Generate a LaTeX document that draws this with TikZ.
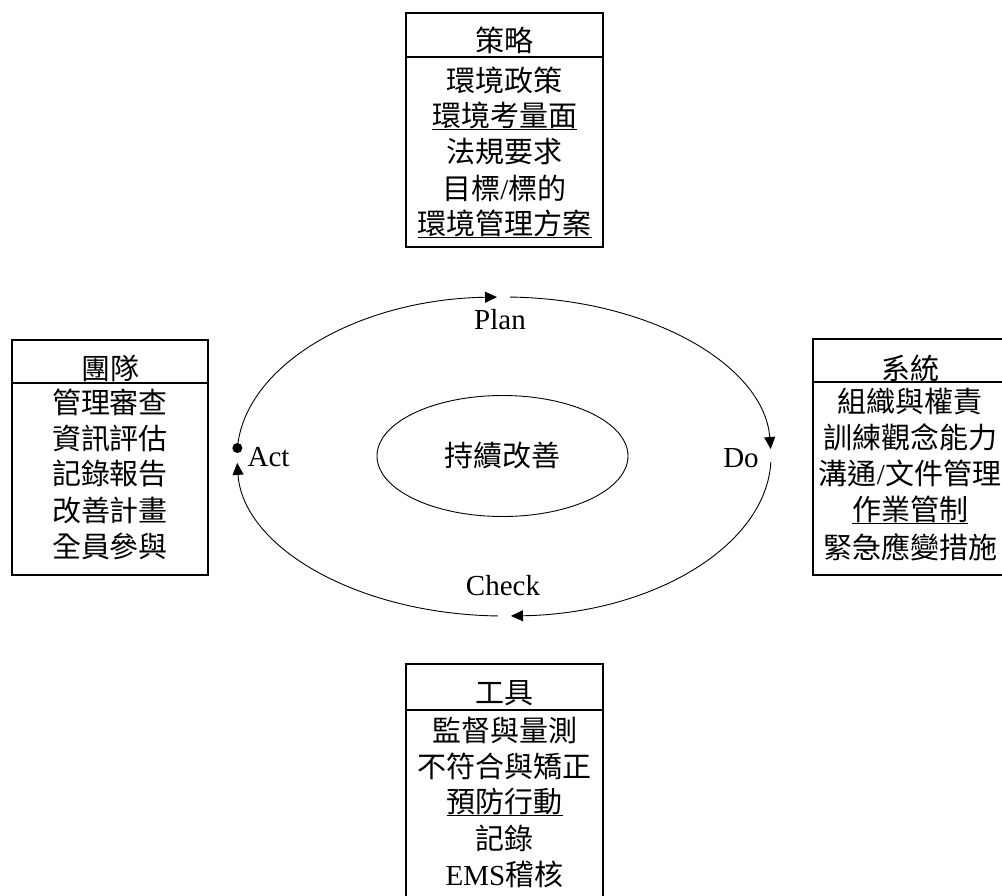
\documentclass[tikz,border=0pt]{standalone}
\usepackage{fontspec}
\setmainfont{Liberation Serif}
\newfontfamily\cjk{Noto Sans CJK TC}
\usetikzlibrary{arrows.meta,shapes.geometric}
\newcommand{\undl}[1]{\setbox0\hbox{#1}\rlap{\rule[-0.09em]{\wd0}{1pt}}\box0}
\tikzset{
   frame/.style={line width=1.8pt},
   cyc/.style={-{Triangle[length=12pt,width=11pt]},line width=0.9pt},
   core/.style={draw,ellipse,line width=0.9pt,minimum width=251pt,minimum height=121pt,inner sep=0pt},
   pdca/.style={font=\fontsize{29}{34}\selectfont,inner sep=0pt},
   item/.style={font=\fontsize{29}{34}\selectfont\cjk,inner sep=0pt},
}

\begin{document}
\begin{tikzpicture}[x=1pt,y=-1pt]
      \path[use as bounding box,clip] (0,0) rectangle (1002,895);
      % boxes
      \draw[frame] (406,13) rectangle (603,247);
      \draw[frame] (406,57) -- (603,57);
      \draw[frame] (12,340) rectangle (208,575);
      \draw[frame] (12,383) -- (208,383);
      \draw[frame] (813,339) rectangle (1007,575);
      \draw[frame] (813,382) -- (1007,382);
      \draw[frame] (406,664) rectangle (603,905);
      \draw[frame] (406,710) -- (603,710);
      % strategy
      \node[item] (strat) at (504.5,40) {策略};
      \node[item] (stratA) at (504.5,80) {環境政策};
      \node[item] (stratB) at (504.5,116) {\undl{環境考量面}};
      \node[item] (stratC) at (504.5,152) {法規要求};
      \node[item] (stratD) at (504.5,188) {目標{\rmfamily/}標的};
      \node[item] (stratE) at (504.5,224) {\undl{環境管理方案}};
      % team
      \node[item] (team) at (110,368) {團隊};
      \node[item] (teamA) at (110,402) {管理審查};
      \node[item] (teamB) at (110,438) {資訊評估};
      \node[item] (teamC) at (110,474) {記錄報告};
      \node[item] (teamD) at (110,510) {改善計畫};
      \node[item] (teamE) at (110,546) {全員參與};
      % system
      \node[item] (sys) at (910,368) {系統};
      \node[item] (sysA) at (910,401) {組織與權責};
      \node[item] (sysB) at (910,437) {訓練觀念能力};
      \node[item] (sysC) at (910,473) {溝通{\rmfamily/}文件管理};
      \node[item] (sysD) at (910,510) {\undl{作業管制}};
      \node[item] (sysE) at (910,547) {緊急應變措施};
      % tools
      \node[item] (tool) at (504.5,693) {工具};
      \node[item] (toolA) at (504.5,730) {監督與量測};
      \node[item] (toolB) at (504.5,766) {不符合與矯正};
      \node[item] (toolC) at (504.5,802) {\undl{預防行動}};
      \node[item] (toolD) at (504.5,838) {記錄};
      \node[item] (toolE) at (504.5,874) {{\rmfamily EMS}稽核};
      % cycle
      \node[core,item] (improve) at (502.5,456) {持續改善};
      \coordinate (mid) at (504,456.5);
      \path (mid) ++(183.05:267 and 159.5) coordinate (actS);
      \path (mid) ++(271.3:267 and 159.5) coordinate (planS);
      \path (mid) ++(2:267 and 159.5) coordinate (doS);
      \path (mid) ++(91.3:267 and 159.5) coordinate (checkS);
      \draw[cyc] (actS) arc[start angle=183.05,end angle=268.5,x radius=267,y radius=159.5];
      \draw[cyc] (planS) arc[start angle=271.3,end angle=357.3,x radius=267,y radius=159.5];
      \draw[cyc] (doS) arc[start angle=2,end angle=88.5,x radius=267,y radius=159.5];
      \draw[cyc] (checkS) arc[start angle=91.3,end angle=177.7,x radius=267,y radius=159.5];
      \fill (actS) circle[radius=5pt];
      \node[pdca] (plan) at (500,320) {Plan};
      \node[pdca] (act) at (268.5,457) {Act};
      \node[pdca] (do) at (741,458) {Do};
      \node[pdca] (check) at (503,586) {Check};
\end{tikzpicture}
\end{document}
